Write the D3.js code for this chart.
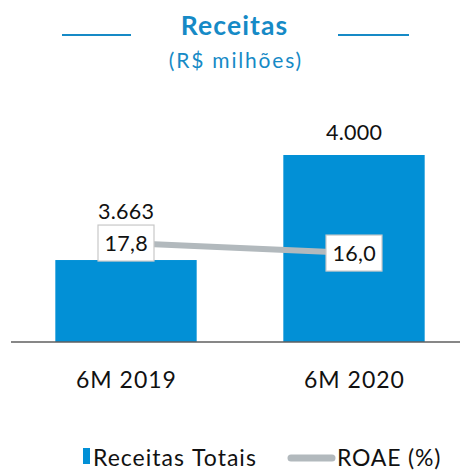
<!DOCTYPE html>
<html>
<head>
<meta charset="utf-8">
<script src="https://cdn.jsdelivr.net/npm/d3@7"></script>
<style>
  html, body { margin: 0; padding: 0; background: #fff; }
  svg { display: block; font-family: Lato, "Open Sans", sans-serif; }
</style>
</head>
<body>
<svg id="chart" width="460" height="472"></svg>
<script>
// dados
const categories = ["6M 2019", "6M 2020"];
const receitas   = [3663, 4000];
const roae       = [17.8, 16.0];
const receitaLabels = ["3.663", "4.000"];
const roaeLabels    = ["17,8", "16,0"];

const blue  = "#0290d6";
const title = "#168ac6";
const gray  = "#b2b9bd";

const svg = d3.select("#chart");
const W = 460, baseY = 342;

// escalas
const x = d3.scaleBand().domain(categories).range([12, 468])
  .paddingInner(0.38).paddingOuter(0.19);
const y = d3.scaleLinear().domain([3400, 4000]).range([baseY, 155]);
const yR = d3.scaleLinear().domain([0, 34]).range([baseY, 153]);
const cx = d => x(d) + x.bandwidth() / 2;

// texto centrado com letter-spacing (compensa o espaço final)
function ctext(sel, xPos, yPos, size, ls, txt) {
  return sel.append("text").attr("x", xPos + ls / 2).attr("y", yPos)
    .attr("text-anchor", "middle").attr("font-size", size)
    .attr("letter-spacing", ls).text(txt);
}

// título
ctext(svg, 234, 35, 26.5, 1.1, "Receitas").attr("font-weight", 700).attr("fill", title);
ctext(svg, 235, 68, 21, 1.8, "(R$ milhões)").attr("fill", title);
[[62, 131], [338, 409]].forEach(([a, b]) =>
  svg.append("line").attr("x1", a).attr("x2", b).attr("y1", 35).attr("y2", 35)
    .attr("stroke", title).attr("stroke-width", 2));

// barras
svg.selectAll("rect.bar").data(categories).join("rect").attr("class", "bar")
  .attr("x", d => x(d)).attr("width", x.bandwidth())
  .attr("y", (d, i) => y(receitas[i])).attr("height", (d, i) => baseY - y(receitas[i]))
  .attr("fill", blue);

// eixo
svg.append("line").attr("x1", 11).attr("x2", W).attr("y1", baseY).attr("y2", baseY)
  .attr("stroke", "#5f5f5f").attr("stroke-width", 1.5);

// rótulos das barras
categories.forEach((d, i) =>
  ctext(svg, cx(d), y(receitas[i]) - 15 - (i === 0 ? 26 : 0), 21.5, 0.3, receitaLabels[i])
    .attr("fill", "#111"));

// linha ROAE
const line = d3.line().x(d => cx(d)).y((d, i) => yR(roae[i]));
svg.append("path").datum(categories).attr("d", line)
  .attr("fill", "none").attr("stroke", gray).attr("stroke-width", 6);

const boxes = svg.selectAll("g.box").data(categories).join("g").attr("class", "box")
  .attr("transform", (d, i) => `translate(${cx(d)},${yR(roae[i])})`);
boxes.append("rect").attr("x", -28).attr("y", -18).attr("width", 56).attr("height", 36)
  .attr("fill", "#fff").attr("stroke", "#c8c8c8").attr("stroke-width", 1.2);
boxes.each(function (d, i) {
  ctext(d3.select(this), 0, 8, 21.5, 0.3, roaeLabels[i]).attr("fill", "#111");
});

// categorias
categories.forEach(d => ctext(svg, cx(d), 388, 23, 1, d).attr("fill", "#111"));

// legenda
svg.append("rect").attr("x", 83).attr("y", 448).attr("width", 7).attr("height", 16).attr("fill", blue);
svg.append("text").attr("x", 93).attr("y", 466).attr("font-size", 23).attr("letter-spacing", 1)
  .attr("word-spacing", 1).attr("fill", "#111").text("Receitas Totais");
svg.append("line").attr("x1", 291).attr("x2", 332).attr("y1", 458).attr("y2", 458)
  .attr("stroke", gray).attr("stroke-width", 7).attr("stroke-linecap", "round");
svg.append("text").attr("x", 337).attr("y", 466).attr("font-size", 23).attr("letter-spacing", 0.8)
  .attr("fill", "#111").text("ROAE (%)");
</script>
</body>
</html>
